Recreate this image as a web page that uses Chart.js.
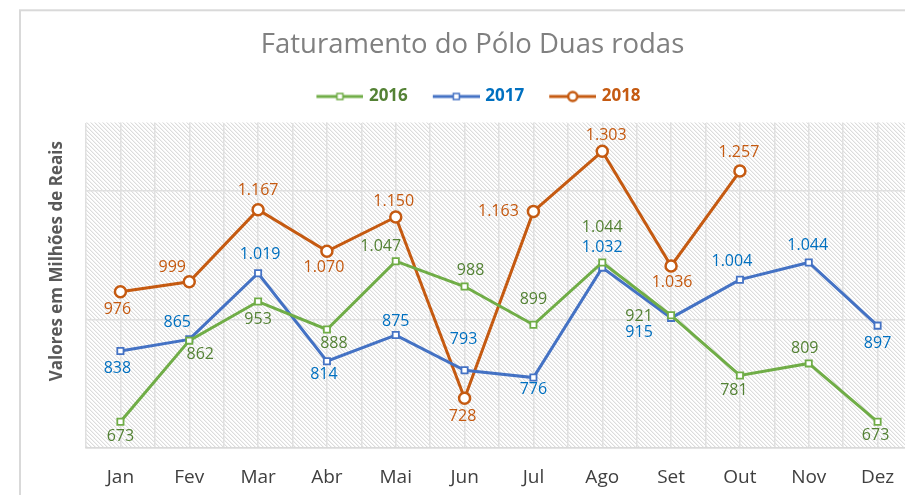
<!DOCTYPE html>
<html>
<head>
<meta charset="utf-8">
<script src="https://cdn.jsdelivr.net/npm/chart.js@4.4.1/dist/chart.umd.min.js"></script>
<style>
  html, body { margin: 0; padding: 0; background: #ffffff; overflow: hidden; width: 905px; height: 495px; }
  #wrap { position: absolute; left: 0; top: 0; width: 920px; height: 495px; }
</style>
</head>
<body>
<div id="wrap"><canvas id="c" width="920" height="495"></canvas></div>
<script>
// ---- data ----
const months = ['Jan', 'Fev', 'Mar', 'Abr', 'Mai', 'Jun', 'Jul', 'Ago', 'Set', 'Out', 'Nov', 'Dez'];
const seriesNames = ['2016', '2017', '2018'];
const values2016 = [673, 862, 953, 888, 1047, 988, 899, 1044, 921, 781, 809, 673];
const values2017 = [838, 865, 1019, 814, 875, 793, 776, 1032, 915, 1004, 1044, 897];
const values2018 = [976, 999, 1167, 1070, 1150, 728, 1163, 1303, 1036, 1257, null, null];
const yMin = 612;
const yMax = 1370;
const gridValues = [612, 910, 1210];

// ---- styling (label offsets relative to each point) ----
const labelOffsets = [
  [[0,15],[11,14],[0,18],[7,14],[-15,-15],[6,-16],[0,-25],[0,-35],[-32,1],[-6,15],[-4,-15],[-2,14]],
  [[-3,17],[-12,-17],[2,-19],[-3,13],[0,-14],[-1,-31],[0,12],[0,-20],[-32,15],[-8,-18],[-1,-17],[0,18]],
  [[-3,18],[-17,-14],[0,-19],[-3,16],[-2,-16],[-2,18],[-35,0],[4,-16],[1,17],[-1,-19],[0,0],[0,0]]
];
const lineColors = ['#70ad47', '#4472c4', '#c55a11'];
const textColors = ['#548235', '#0070c0', '#c55a11'];
const pointStyles = ['rect', 'rect', 'circle'];

function fmt(v) {
  if (v >= 1000) return Math.floor(v / 1000) + '.' + String(v % 1000).padStart(3, '0');
  return String(v);
}

function swatch(i) {
  const c = document.createElement('canvas');
  c.width = 62; c.height = 14;
  const g = c.getContext('2d');
  g.strokeStyle = lineColors[i];
  g.lineWidth = 3;
  g.beginPath(); g.moveTo(15, 7); g.lineTo(62, 7); g.stroke();
  const cx = 38.5;
  g.fillStyle = '#ffffff';
  if (pointStyles[i] === 'circle') {
    g.lineWidth = 2.5;
    g.beginPath(); g.arc(cx, 7, 4.5, 0, Math.PI * 2); g.fill(); g.stroke();
  } else {
    g.lineWidth = 1.5;
    g.fillRect(cx - 3, 4, 6, 6); g.strokeRect(cx - 3, 4, 6, 6);
  }
  return c;
}

function hatchPattern(ctx) {
  const t = document.createElement('canvas');
  t.width = 4; t.height = 4;
  const g = t.getContext('2d');
  g.fillStyle = '#ffffff'; g.fillRect(0, 0, 4, 4);
  for (let i = 0; i < 4; i++) {
    g.fillStyle = '#dcdcdc'; g.fillRect(i, i, 1, 1);
    g.fillStyle = '#f2f2f2'; g.fillRect((i + 1) % 4, i, 1, 1);
  }
  return ctx.createPattern(t, 'repeat');
}

const bgPlugin = {
  id: 'bg',
  beforeDraw(chart) {
    const ctx = chart.ctx;
    const a = chart.chartArea;
    ctx.save();
    ctx.fillStyle = '#ffffff';
    ctx.fillRect(0, 0, chart.width, chart.height);
    ctx.strokeStyle = '#d9d9d9';
    ctx.lineWidth = 2;
    ctx.strokeRect(20, 10.3, chart.width + 20, chart.height + 20);
    ctx.fillStyle = hatchPattern(ctx);
    ctx.fillRect(a.left, a.top, a.right - a.left, a.bottom - a.top);
    ctx.restore();
  }
};

const labelPlugin = {
  id: 'dlabels',
  afterDatasetsDraw(chart) {
    const ctx = chart.ctx;
    ctx.save();
    ctx.font = '16px "Open Sans"';
    ctx.textAlign = 'center';
    ctx.textBaseline = 'middle';
    chart.data.datasets.forEach((ds, di) => {
      const meta = chart.getDatasetMeta(di);
      ctx.fillStyle = textColors[di];
      ds.data.forEach((v, i) => {
        if (v === null) return;
        const p = meta.data[i];
        const o = labelOffsets[di][i];
        ctx.fillText(fmt(v), p.x + o[0], p.y + o[1]);
      });
    });
    // y axis title
    const a = chart.chartArea;
    ctx.translate(57.5, (a.top + a.bottom) / 2 - 24);
    ctx.rotate(-Math.PI / 2);
    ctx.font = 'bold 17px "Open Sans"';
    ctx.fillStyle = '#595959';
    ctx.fillText('Valores em Milhões de Reais', 0, 0);
    ctx.restore();
  }
};

const allValues = [values2016, values2017, values2018];
const datasets = allValues.map((vals, i) => ({
  label: seriesNames[i],
  data: vals,
  borderColor: lineColors[i],
  backgroundColor: '#ffffff',
  borderWidth: 3,
  pointStyle: pointStyles[i],
  pointRadius: pointStyles[i] === 'circle' ? 5.5 : 4.4,
  pointBorderWidth: pointStyles[i] === 'circle' ? 2.5 : 1.8,
  pointBackgroundColor: '#ffffff',
  pointBorderColor: lineColors[i],
  tension: 0,
  xAxisID: 'x',
  yAxisID: 'y'
}));

new Chart(document.getElementById('c'), {
  type: 'line',
  data: { labels: months, datasets },
  plugins: [bgPlugin, labelPlugin],
  options: {
    responsive: false,
    animation: false,
    devicePixelRatio: 1,
    layout: { padding: { top: 10, left: 28, right: 3, bottom: 7 } },
    plugins: {
      title: {
        display: true,
        text: 'Faturamento do Pólo Duas rodas',
        color: '#808080',
        font: { family: 'Open Sans', size: 27.5, weight: 'normal' },
        padding: { top: 19, bottom: 13 }
      },
      legend: {
        display: true,
        labels: {
          usePointStyle: true,
          pointStyleWidth: 56,
          padding: 13,
          font: { family: 'Open Sans', size: 17, weight: 'bold' },
          generateLabels(chart) {
            return seriesNames.map((n, i) => ({
              text: n,
              fontColor: textColors[i],
              fillStyle: lineColors[i],
              strokeStyle: lineColors[i],
              lineWidth: 0,
              pointStyle: swatch(i),
              datasetIndex: i,
              hidden: false
            }));
          }
        }
      },
      tooltip: { enabled: false }
    },
    scales: {
      x: {
        type: 'category',
        position: 'bottom',
        offset: true,
        grid: { display: true, offset: false, drawTicks: false, color: '#e0e0e0', lineWidth: 1.5 },
        border: { display: true, color: '#d9d9d9', width: 1.5 },
        ticks: { color: '#404040', font: { family: 'Open Sans', size: 19 }, padding: 18, maxRotation: 0 },
        afterFit(s) { s.height = 40; }
      },
      x2: {
        type: 'category',
        labels: months,
        position: 'top',
        offset: true,
        grid: { display: true, offset: true, drawTicks: false, color: '#e0e0e0', lineWidth: 1.5 },
        border: { display: false },
        ticks: { display: false },
        afterFit(s) { s.height = 7.5; }
      },
      y: {
        type: 'linear',
        min: yMin,
        max: yMax,
        grid: { display: true, drawTicks: false, color: '#e0e0e0', lineWidth: 1.5 },
        border: { display: false },
        ticks: { display: false },
        afterBuildTicks(s) { s.ticks = gridValues.map(v => ({ value: v })); },
        afterFit(s) { s.width = 58; }
      }
    }
  }
});
</script>
</body>
</html>
